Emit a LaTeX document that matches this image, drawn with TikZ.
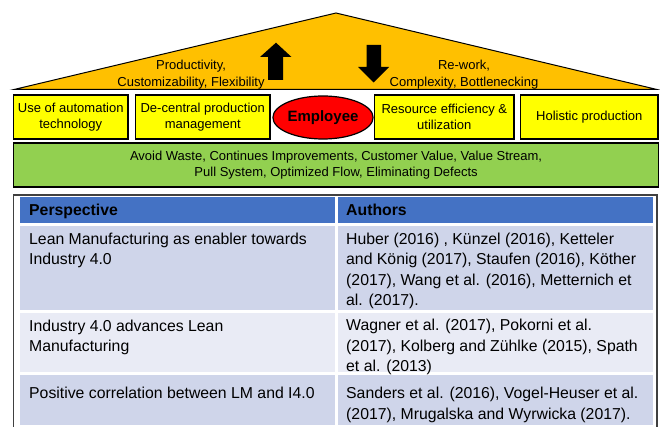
\documentclass[tikz,border=0pt]{standalone}
\usepackage{fontspec}
\setmainfont{Liberation Sans}
\usetikzlibrary{shapes.geometric}
\definecolor{roofOrange}{HTML}{FFC000}
\definecolor{pillarYellow}{HTML}{FFFF00}
\definecolor{leanGreen}{HTML}{92D050}
\definecolor{headBlue}{HTML}{4472C4}
\definecolor{rowDark}{HTML}{CFD5EA}
\definecolor{rowLight}{HTML}{E9EBF5}
\definecolor{frameGray}{HTML}{404040}

\begin{document}
\begin{tikzpicture}[x=1pt, y=-1pt,
        pillar/.style={draw=black, line width=1.2pt, fill=pillarYellow, inner sep=0pt,
            minimum height=44pt, align=center, font=\fontsize{13}{16}\selectfont},
        roofText/.style={align=center, inner sep=0pt, font=\fontsize{13}{16.5}\selectfont},
        cellText/.style={anchor=base west, align=left, inner sep=0pt, font=\fontsize{15.8}{20.6}\selectfont}]
        \useasboundingbox (0, 0) rectangle (660, 427);
        \clip (0, 0) rectangle (660, 427);

        % roof
        \filldraw[fill=roofOrange, draw=black, line width=1pt] (14, 89.5) -- (336, 13) -- (657, 89.5) -- cycle;
        \draw[black, line width=1.5pt] (14, 89.5) -- (657, 89.5);
        \fill[black] (268, 80) -- (283, 80) -- (283, 57) -- (291.5, 57) -- (276, 42.7) -- (260, 57) -- (268, 57) -- cycle;
        \fill[black] (366.5, 45) -- (381, 45) -- (381, 67) -- (389, 67) -- (373.5, 82.5) -- (358, 67) -- (366.5, 67) -- cycle;
        \node (gain) [roofText] at (191, 74.5) {Productivity,\\Customizability, Flexibility};
        \node (loss) [roofText] at (464, 74.5) {Re-work,\\Complexity, Bottlenecking};

        % pillars
        \node (automation) [pillar, minimum width=114.5pt] at (70.75, 117) {Use of automation\\technology};
        \node (decentral) [pillar, minimum width=134.5pt] at (202.75, 117) {De-central production\\management};
        \node (employee) [ellipse, draw=black, line width=1.2pt, fill=red, minimum width=94pt, minimum height=43pt,
            inner sep=0pt, font=\fontsize{15}{18}\selectfont\bfseries] at (323, 117.5) {Employee};
        \node (resource) [pillar, minimum width=139.4pt] at (444.3, 117) {Resource efficiency \&\\utilization};
        \node (holistic) [pillar, minimum width=137.4pt] at (589.3, 117) {Holistic production};

        % foundation
        \node (lean) [pillar, fill=leanGreen, minimum width=645pt] at (336.1, 165)
            {Avoid Waste, Continues Improvements, Customer Value, Value Stream,\\Pull System, Optimized Flow, Eliminating Defects};

        % table (base anchor sits on the last line)
        \draw[frameGray, line width=1.5pt] (13.5, 432) -- (13.5, 195) -- (657, 195) -- (657, 432);
        \foreach \top/\bot/\col in {197.5/223/headBlue, 226/310/rowDark, 313/371.5/rowLight, 374.5/425/rowDark} {
            \fill[\col] (20, \top) rectangle (335, \bot);
            \fill[\col] (338, \top) rectangle (652.5, \bot);
        }
        \node (perspective) [cellText, font=\fontsize{15.8}{20.6}\selectfont\bfseries] at (29, 216) {Perspective};
        \node (authors) [cellText, font=\fontsize{15.8}{20.6}\selectfont\bfseries] at (346, 216) {Authors};
        \node (enabler) [cellText] at (29, 264.6) {Lean Manufacturing as enabler towards\\Industry 4.0};
        \node (enablerRef) [cellText] at (346, 305.8) {Huber (2016) , Künzel (2016), Ketteler\\and König (2017), Staufen (2016), Köther\\(2017), Wang et al. (2016), Metternich et\\al. (2017).};
        \node (advances) [cellText] at (29, 351.7) {Industry 4.0 advances Lean\\Manufacturing};
        \node (advancesRef) [cellText] at (346, 371.8) {Wagner et al. (2017), Pokorni et al.\\(2017), Kolberg and Zühlke (2015), Spath\\et al. (2013)};
        \node (correlation) [cellText] at (29, 398) {Positive correlation between LM and I4.0};
        \node (correlationRef) [cellText] at (346, 419) {Sanders et al. (2016), Vogel-Heuser et al.\\(2017), Mrugalska and Wyrwicka (2017).};
    \end{tikzpicture}
\end{document}
